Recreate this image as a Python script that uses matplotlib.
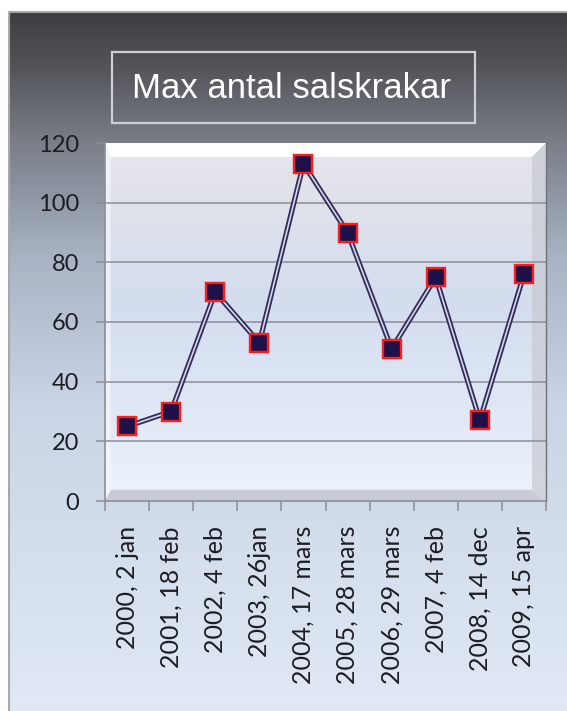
import numpy as np
import matplotlib
matplotlib.use("Agg")
import matplotlib.pyplot as plt
from matplotlib.colors import LinearSegmentedColormap
from matplotlib.patches import Rectangle, Polygon

# data
labels = ['2000, 2 jan', '2001, 18 feb', '2002, 4 feb', '2003, 26jan',
          '2004, 17 mars', '2005, 28 mars', '2006, 29 mars', '2007, 4 feb',
          '2008, 14 dec', '2009, 15 apr']
counts = [25, 30, 70, 53, 113, 90, 51, 75, 27, 76]
yticks = [0, 20, 40, 60, 80, 100, 120]
title = 'Max antal salskrakar'

W, H = 567, 711
fig = plt.figure(figsize=(W / 100, H / 100), dpi=100)
fig.patch.set_facecolor('white')

# background of the chart frame, in pixel coordinates
bg = fig.add_axes([0, 0, 1, 1])
bg.set_xlim(0, W)
bg.set_ylim(H, 0)
bg.axis('off')
stops = [(0.0, '#3e3e40'), (0.07, '#505256'), (0.19, '#7b808a'),
         (0.35, '#a8b3c4'), (0.56, '#c9d5e6'), (1.0, '#e0e9f4')]
cm_bg = LinearSegmentedColormap.from_list('bg', stops)
grad = np.linspace(0, 1, 256).reshape(-1, 1)
bg.imshow(grad, cmap=cm_bg, extent=(9, W + 2, H + 2, 12), aspect='auto',
          zorder=0)
bg.plot([9, 9, W + 2], [H + 2, 12, 12], color='#a8a8ac', lw=1.5, zorder=1)

# title box
bg.add_patch(Rectangle((112, 52), 363, 71, fill=False,
                       edgecolor='#cfd0d4', lw=1.6, zorder=2))
fig.text(292 / W, 1 - 88 / H, title, color='white', ha='center',
         va='center', fontsize=25, family='Liberation Sans')

# plot area
L, R, T, B = 105, 546, 143, 501
ax = fig.add_axes([L / W, 1 - B / H, (R - L) / W, (B - T) / H])
n = len(counts)
ax.set_xlim(0, n)
ax.set_ylim(0, 120)

stops_in = [(0.0, '#eef3fb'), (0.2, '#e2eaf7'), (0.55, '#d3ddef'),
            (0.85, '#e0e2ea'), (1.0, '#e6e6ec')]
cm_in = LinearSegmentedColormap.from_list('inner', stops_in)
ax.imshow(grad[::-1], cmap=cm_in, extent=(0, n, 0, 120), aspect='auto',
          zorder=0)

# bevel edges (axes fraction)
bx = 14 / (R - L)
by = 14 / (B - T)
tr = ax.transAxes
ax.add_patch(Polygon([(0, 1), (1, 1), (1 - bx, 1 - by), (bx * 0.4, 1 - by)],
                     closed=True, facecolor='white', edgecolor='none',
                     transform=tr, zorder=1))
ax.add_patch(Polygon([(0, 0), (1, 0), (1 - bx, by * 0.8), (bx * 0.4, by * 0.8)],
                     closed=True, facecolor='#c2c6d0', edgecolor='none',
                     alpha=0.85, transform=tr, zorder=1))
ax.add_patch(Polygon([(1, 0), (1, 1), (1 - bx, 1 - by), (1 - bx, by * 0.8)],
                     closed=True, facecolor='#c8cbd4', edgecolor='none',
                     alpha=0.75, transform=tr, zorder=1))
ax.add_patch(Polygon([(0, 0), (0, 1), (bx * 0.4, 1 - by), (bx * 0.4, by * 0.8)],
                     closed=True, facecolor='#f4f6fa', edgecolor='none',
                     alpha=0.8, transform=tr, zorder=1))

for yv in yticks[1:-1]:
    ax.axhline(yv, color='#8c8e96', lw=1.1, zorder=2)

x = np.arange(n) + 0.5
ax.plot(x, counts, color='#312c58', lw=3.8, zorder=3,
        solid_joinstyle='miter')
ax.plot(x, counts, color='#d6d6ea', lw=1.2, zorder=4)
ax.plot(x, counts, ls='none', marker='s', markersize=12.5,
        markerfacecolor='#1e1048', markeredgecolor='#ff1c1c',
        markeredgewidth=1.7, zorder=5)

ax.spines['top'].set_visible(False)
ax.spines['right'].set_color('#6f727a')
ax.spines['right'].set_linewidth(1.0)
for s in ['left', 'bottom']:
    ax.spines[s].set_color('#8c8e96')
    ax.spines[s].set_linewidth(1.2)

ax.set_yticks(yticks)
ax.tick_params(axis='y', length=6.5, width=1.1, color='#8c8e96', pad=12,
               labelsize=17, labelcolor='#1e1e22')
ax.set_xticks(np.arange(n + 1))
ax.set_xticklabels([])
ax.tick_params(axis='x', which='major', length=7, width=1.1,
               color='#8c8e96')
ax.set_xticks(x, minor=True)
ax.set_xticklabels(labels, minor=True, rotation=90, va='top', ha='center')
ax.tick_params(axis='x', which='minor', length=0, pad=18, labelsize=18,
               labelcolor='#1e1e22')
for lab in ax.get_xticklabels(minor=True) + ax.get_yticklabels():
    lab.set_family('Lato')

fig.savefig('out.png', dpi=100)
